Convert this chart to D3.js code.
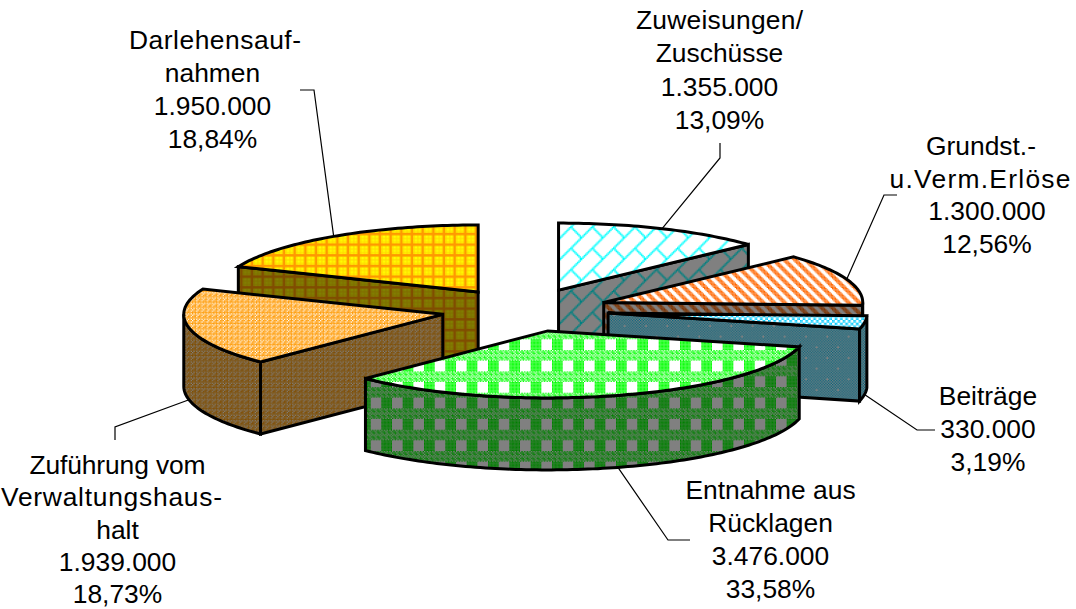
<!DOCTYPE html>
<html lang="de">
<head>
    <meta charset="UTF-8">
    <title>Einnahmen</title>
    <style>
        html, body { margin: 0; padding: 0; background: #fff; }
        svg { display: block; }
        .edge { fill: none; stroke: #000; stroke-width: 3; stroke-linejoin: miter; }
        .leader { fill: none; stroke: #000; stroke-width: 1.2; }
        .label { font-family: "Liberation Sans", Arial, sans-serif; font-size: 26.4px; text-anchor: middle; fill: #000; }
    </style>
</head>
<body>
<script src="https://cdnjs.cloudflare.com/ajax/libs/d3/7.8.5/d3.min.js"></script>
<script>
    const categories = ["Zuweisungen/|Zuschüsse", "Grundst.-|u.Verm.Erlöse", "Beiträge", "Entnahme aus|Rücklagen", "Zuführung vom|Verwaltungshaus-|halt", "Darlehensauf-|nahmen"];
    const values = [1355000, 1300000, 330000, 3476000, 1939000, 1950000];
    const valueLabels = ["1.355.000", "1.300.000", "330.000", "3.476.000", "1.939.000", "1.950.000"];
    const percentLabels = ["13,09%", "12,56%", "3,19%", "33,58%", "18,73%", "18,84%"];

    const width = 1076, height = 609;
    const cx = 525, cy = 310, rx = 259, ry = 67, depth = 72, explode = 0.324;
    const unit = 4 / 3;

    const svg = d3.select("body").append("svg").attr("width", width).attr("height", height);
    const defs = svg.append("defs");

    // the reference fills are slightly smoothed bitmaps
    defs.append("filter").attr("id", "soft")
        .attr("x", "-5%").attr("y", "-5%").attr("width", "110%").attr("height", "110%")
        .append("feGaussianBlur").attr("stdDeviation", 0.3);

    // bitmap fill patterns, the same look excel uses for its pattern fills
    const dots = (x, y) => (x + y) % 2 === 1 || (x % 4 === 2 && y % 4 === 2) || (x % 4 === 1 && y % 4 === 1);
    const plus = (x, y) => dots(x, y) || (x % 4 === 0 && y % 4 === 2) || (x % 4 === 2 && y % 4 === 0);
    const patterns = [
        {size: 16, fg: "#00ffff", tx: 5, ty: 3,
            test: (x, y) => (x + y) % 16 === 15 || (x + y) % 16 === 0 || (x >= 8 && (x - y + 16) % 16 <= 1)},
        {size: 8, fg: "#ff6600", tx: 0, ty: 0,
            test: (x, y) => (x - y + 8) % 8 < 4},
        {size: 16, fg: "#00ccff", tx: 0, ty: 0,
            test: (x, y) => (Math.floor(x / 2) + Math.floor(y / 2)) % 2 === 0,
            wall: (x, y) => {
                let cross = (a, b) => (x === a && Math.abs(y - b) <= 1) || (y === b && Math.abs(x - a) <= 1);
                return !(cross(4, 4) || cross(12, 12)) && (x + y) % 2 === 0;
            }},
        {size: 16, fg: "#00ff00", tx: 18.67, ty: 8.67, wallTy: 3,
            test: (x, y) => y < 8 ? dots(x, y) : x < 8},
        {size: 8, fg: "#ff9900", tx: 0, ty: 0,
            test: (x, y) => plus(x, y)},
        {size: 8, fg: "#ffff00", bg: "#ff9900", tx: 0, ty: 2,
            test: (x, y) => !(x % 8 === 4 || x % 8 === 5 || y % 8 === 5 || y % 8 === 6)}
    ];

    function shade(c) {
        let r = d3.rgb(c);
        return d3.rgb(r.r / 2, r.g / 2, r.b / 2).formatHex();
    }

    function addPattern(id, size, fg, bg, test, tx, ty) {
        let p = defs.append("pattern")
            .attr("id", id)
            .attr("patternUnits", "userSpaceOnUse")
            .attr("width", size).attr("height", size)
            .attr("patternTransform", "translate(" + tx + "," + ty + ") scale(" + unit + ")");
        p.append("rect").attr("width", size).attr("height", size).attr("fill", bg);
        d3.cross(d3.range(size), d3.range(size)).filter(c => test(c[0], c[1])).forEach(c => {
            p.append("rect").attr("x", c[0]).attr("y", c[1])
                .attr("width", 1).attr("height", 1)
                .attr("fill", fg);
        });
    }

    patterns.forEach((p, i) => {
        let bg = p.bg || "#ffffff";
        addPattern("top" + i, p.size, p.fg, bg, p.test, p.tx, p.ty);
        addPattern("wall" + i, p.size, shade(p.fg), shade(bg), p.wall || p.test, p.tx,
            p.wallTy === undefined ? p.ty : p.wallTy);
    });

    const xScale = d3.scaleLinear().domain([-1, 1]).range([cx - rx, cx + rx]);
    const yScale = d3.scaleLinear().domain([-1, 1]).range([cy - ry, cy + ry]);
    const line = d3.line();

    const slices = d3.pie().sort(null).value(d => d)(values).map((d, i) => {
        let mid = (d.startAngle + d.endAngle) / 2;
        return {
            index: i, a0: d.startAngle, a1: d.endAngle, mid: mid,
            ox: explode * Math.sin(mid), oy: -explode * Math.cos(mid)
        };
    });

    // r = 1 on the rim, r = 0 at the slice's own apex; drop moves it to the bottom face
    function point(s, angle, r, drop) {
        return [xScale(s.ox + r * Math.sin(angle)), yScale(s.oy - r * Math.cos(angle)) + (drop ? depth : 0)];
    }

    function rim(s, a0, a1, drop) {
        let n = Math.max(2, Math.ceil((a1 - a0) / 0.02));
        return d3.range(n + 1).map(k => point(s, a0 + (a1 - a0) * k / n, 1, drop));
    }

    // leader lines first, the slices sit on top of their ends
    const leaderLayout = [
        [[720, 158], [720, 143]],
        [[884, 195], [897, 195]],
        [[917, 430], [935, 430]],
        [[668, 540], [690, 540]],
        [[115, 427], [115, 440]],
        [[314, 90], [300, 90]]
    ];
    slices.forEach(s => {
        let front = Math.cos(s.mid) < 0;
        svg.append("path").attr("class", "leader")
            .attr("d", line([point(s, s.mid, 1, front)].concat(leaderLayout[s.index])));
    });

    const halfPi = Math.PI / 2;
    slices.slice().sort((a, b) => a.oy - b.oy).forEach(s => {
        let g = svg.append("g").attr("class", "slice"),
            wall = "url(#wall" + s.index + ")",
            top = "url(#top" + s.index + ")";

        function face(d, fill) {
            g.append("path").attr("d", d).attr("fill", fill).attr("filter", "url(#soft)");
            g.append("path").attr("d", d).attr("class", "edge");
        }

        function radialWall(angle) {
            let pts = [point(s, angle, 0, false), point(s, angle, 1, false), point(s, angle, 1, true), point(s, angle, 0, true)];
            face(line(pts) + "Z", wall);
        }

        if (Math.sin(s.a0) < -1e-6) radialWall(s.a0);
        if (Math.sin(s.a1) > 1e-6) radialWall(s.a1);

        let f0 = Math.max(s.a0, halfPi), f1 = Math.min(s.a1, 3 * halfPi);
        if (f1 > f0) {
            face(line(rim(s, f0, f1, false).concat(rim(s, f0, f1, true).reverse())) + "Z", wall);
        }

        face(line([point(s, 0, 0, false)].concat(rim(s, s.a0, s.a1, false))) + "Z", top);
    });

    // text blocks: centre x, baseline of the first line, line step
    const labelLayout = [
        [719.5, 29, 33.3], [987, 155, 32.7], [988, 405, 33], [770.5, 499, 33], [117.5, 474, 32.3], [212.5, 49, 33]
    ];
    // a few rows sit off centre or run wider than the font gives on its own
    const rowFit = {
        "Zuweisungen/": {w: 167},
        "Grundst.-": {x: 981},
        "u.Verm.Erlöse": {x: 980, w: 181},
        "Zuführung vom": {w: 176},
        "Verwaltungshaus-": {x: 111.5, w: 221},
        "Darlehensauf-": {x: 215, w: 172}
    };
    categories.forEach((c, i) => {
        let rows = c.split("|").concat([valueLabels[i], percentLabels[i]]),
            g = svg.append("g");
        rows.forEach((r, k) => {
            let fit = rowFit[r] || {},
                t = g.append("text").attr("class", "label")
                    .attr("x", fit.x === undefined ? labelLayout[i][0] : fit.x)
                    .attr("y", labelLayout[i][1] + k * labelLayout[i][2])
                    .text(r);
            if (fit.w) t.attr("textLength", fit.w).attr("lengthAdjust", "spacing");
        });
    });
</script>
</body>
</html>
